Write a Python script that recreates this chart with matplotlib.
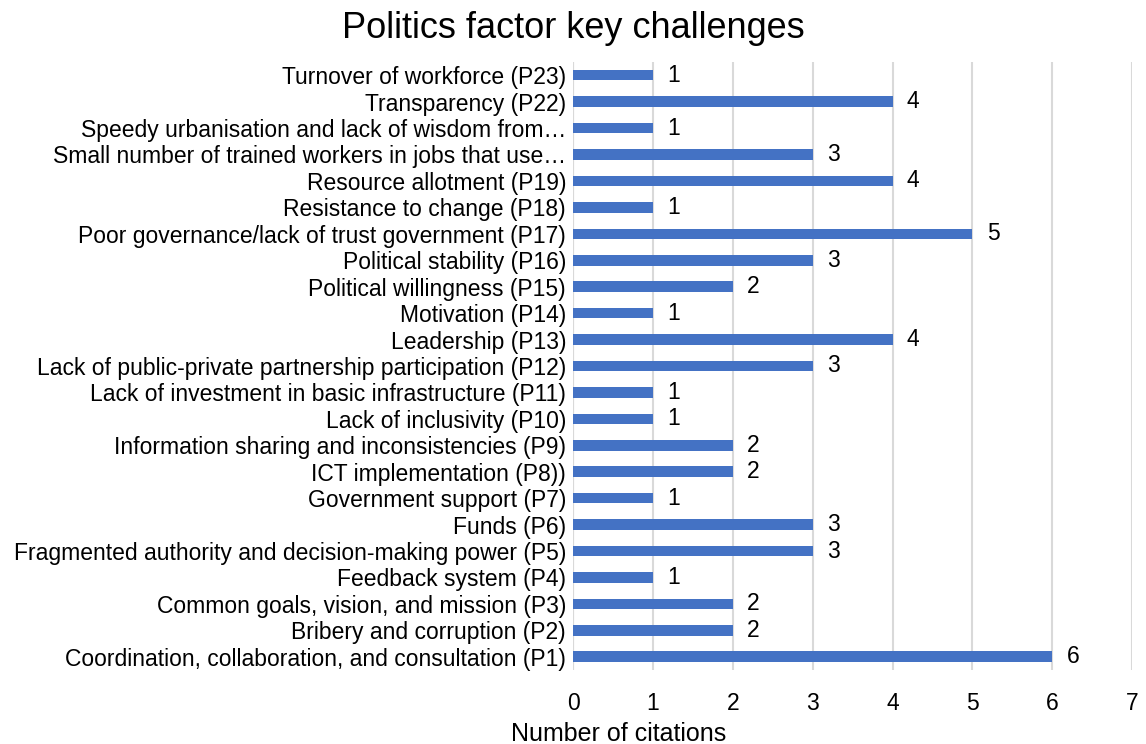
import numpy as np
import matplotlib.pyplot as plt

plt.rcParams['font.family'] = ['Liberation Sans', 'DejaVu Sans']

# challenges listed from P1 (bottom) to P23 (top)
labels = [
    "Coordination, collaboration, and consultation (P1)",
    "Bribery and corruption (P2)",
    "Common goals, vision, and mission (P3)",
    "Feedback system (P4)",
    "Fragmented authority and decision-making power (P5)",
    "Funds (P6)",
    "Government support (P7)",
    "ICT implementation (P8))",
    "Information sharing and inconsistencies (P9)",
    "Lack of inclusivity (P10)",
    "Lack of investment in basic infrastructure (P11)",
    "Lack of public-private partnership participation (P12)",
    "Leadership (P13)",
    "Motivation (P14)",
    "Political willingness (P15)",
    "Political stability (P16)",
    "Poor governance/lack of trust government (P17)",
    "Resistance to change (P18)",
    "Resource allotment (P19)",
    "Small number of trained workers in jobs that use\u2026",
    "Speedy urbanisation and lack of wisdom from\u2026",
    "Transparency (P22)",
    "Turnover of workforce (P23)",
]
citations = [6, 2, 2, 1, 3, 3, 1, 2, 2, 1, 1, 3, 4, 1, 2, 3, 5, 1, 4, 3, 1, 4, 1]

fig = plt.figure(figsize=(11.46, 7.44), dpi=100)
ax = fig.add_axes([0.5, 0.0995, 0.488, 0.8172])

fs = 16.5
y = np.arange(len(labels))
ax.barh(y, citations, height=0.4, color='#4472C4', zorder=3)
for yi, v in zip(y, citations):
    ax.text(v + 0.18, yi, str(v), va='center', ha='left', fontsize=fs, color='black')

ax.set_yticks(y)
ax.set_yticklabels(labels, fontsize=fs)
ax.set_ylim(-0.5, len(labels) - 0.5)
ax.set_xlim(0, 7)
ax.set_xticks(range(8))
ax.tick_params(axis='x', labelsize=fs, length=0, pad=16)
ax.tick_params(axis='y', length=0, pad=5)

ax.grid(axis='x', color='#D9D9D9', linewidth=1.5, zorder=0)
for s in ax.spines.values():
    s.set_visible(False)
ax.axvline(0, color='#D9D9D9', linewidth=1.5, zorder=1)

ax.set_xlabel("Number of citations", fontsize=18)
ax.xaxis.set_label_coords(0.082, -0.085)
fig.text(0.5, 0.962, "Politics factor key challenges", ha='center', va='center', fontsize=26)

fig.savefig("out.png", dpi=100)
